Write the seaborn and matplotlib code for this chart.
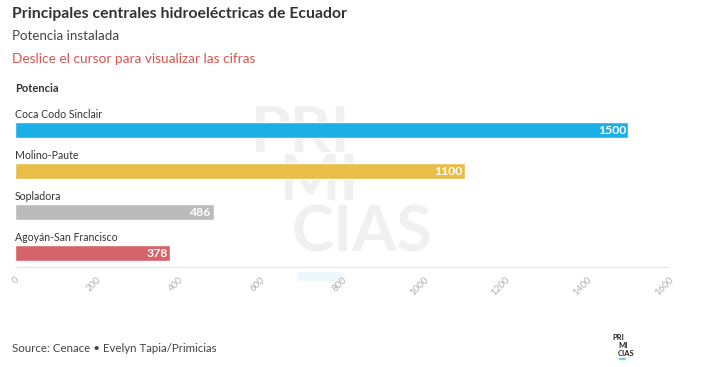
import pandas as pd
import seaborn as sns
import matplotlib.pyplot as plt
from matplotlib.patches import Rectangle

centrales = ['Coca Codo Sinclair', 'Molino-Paute', 'Sopladora', 'Agoyán-San Francisco']
potencia = [1500, 1100, 486, 378]
colores = ['#1aafe6', '#e8bd48', '#bbbbbb', '#d6636a']
ticks = [0, 200, 400, 600, 800, 1000, 1200, 1400, 1600]

df = pd.DataFrame({'Central': centrales, 'Potencia': potencia})

sns.set_style('white')
plt.rcParams['font.family'] = ['Lato', 'DejaVu Sans']

W, H = 702, 367
fig = plt.figure(figsize=(W / 100, H / 100), dpi=100)

# marca de agua de fondo (detrás de las barras)
for txt, x, y in [('PRI', 251, 152), ('MI', 280, 200), ('CIAS', 292, 252)]:
    fig.text(x / W, 1 - y / H, txt, ha='left', va='baseline', fontsize=46,
             fontweight='bold', color='#f0f0f0', zorder=0)
fig.patches.append(Rectangle((298 / W, 1 - 280 / H), 44 / W, 8 / H,
                             transform=fig.transFigure, color='#eef7fb', zorder=0))

# área del gráfico: 0 en x=15px, 1600 en x=669px
ax = fig.add_axes([15 / W, 1 - 267 / H, (669 - 15) / W, (267 - 109.5) / H])
ax.set_zorder(1)
ax.patch.set_alpha(0)
sns.barplot(data=df, x='Potencia', y='Central', hue='Central', palette=colores,
            orient='h', width=0.39, legend=False, ax=ax, saturation=1)
ax.set_xlim(0, 1600)
ax.set_ylim(3.34, -0.5)
ax.set_xticks(ticks)
ax.set_xticklabels([str(t) for t in ticks], rotation=45, ha='right',
                   rotation_mode='anchor', fontsize=7, color='#b0b0b0')
ax.tick_params(axis='x', length=4, color='#e6e6e6', pad=2)
ax.set_yticks([])
ax.set_xlabel('')
ax.set_ylabel('')
for s in ['top', 'right', 'left']:
    ax.spines[s].set_visible(False)
ax.spines['bottom'].set_color('#e6e6e6')

for i, (c, v) in enumerate(zip(centrales, potencia)):
    ax.text(0, i - 0.37, c, ha='left', va='center', fontsize=7.6, color='#333333')
    ax.text(v - 5, i, str(v), ha='right', va='center', fontsize=8.8,
            fontweight='bold', color='white')

fig.text(12 / W, 1 - 14 / H, 'Principales centrales hidroeléctricas de Ecuador',
         ha='left', va='center', fontsize=11.3, fontweight='bold', color='#333333')
fig.text(12 / W, 1 - 36 / H, 'Potencia instalada', ha='left', va='center',
         fontsize=9.6, color='#444444')
fig.text(12 / W, 1 - 59 / H, 'Deslice el cursor para visualizar las cifras',
         ha='left', va='center', fontsize=9.8, color='#d9534f')
fig.text(15 / W, 1 - 89 / H, 'Potencia', ha='left', va='center', fontsize=8,
         fontweight='bold', color='#333333')
fig.text(12 / W, 1 - 349 / H, 'Source: Cenace • Evelyn Tapia/Primicias',
         ha='left', va='center', fontsize=8.3, color='#444444')

# logo pequeño
for txt, x, y in [('PRI', 612, 337), ('MI', 618, 345), ('CIAS', 618, 353)]:
    fig.text(x / W, 1 - y / H, txt, ha='left', va='center', fontsize=5.5,
             fontweight='bold', color='#222222')
fig.patches.append(Rectangle((619 / W, 1 - 359 / H), 6 / W, 1.5 / H,
                             transform=fig.transFigure, color='#7fcdf0'))

fig.savefig('out.png', dpi=100)
